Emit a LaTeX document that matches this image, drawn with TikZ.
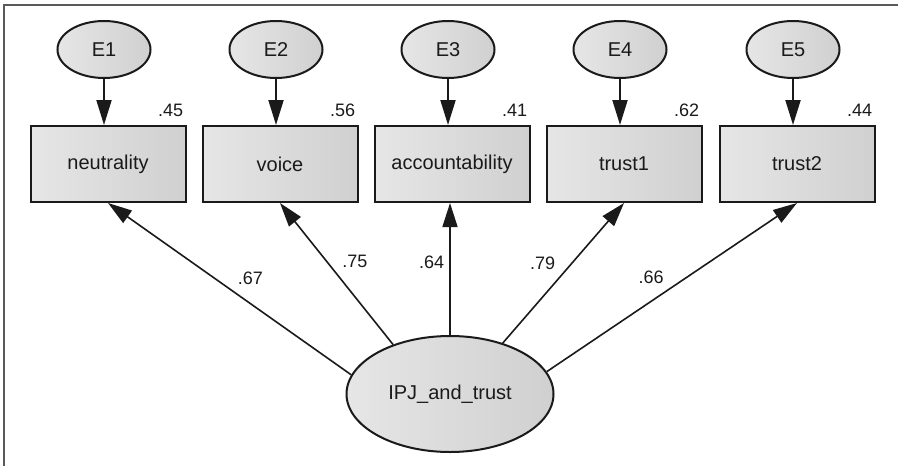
\documentclass[tikz,border=0pt]{standalone}
\usepackage{fontspec}
\setmainfont{Liberation Sans}
\usetikzlibrary{arrows.meta,positioning,shapes.geometric}
\definecolor{ink}{HTML}{1A1A1A}
\definecolor{framegray}{HTML}{5A5A5A}
\definecolor{shadelight}{HTML}{E6E6E6}
\definecolor{shadedark}{HTML}{D0D0D0}
\tikzset{
  itembox/.style={draw=ink,left color=shadelight,right color=shadedark,
                  line width=1pt,minimum width=77.5pt,minimum height=38pt,
                  inner sep=2pt,text=ink},
  errell/.style={ellipse,draw=ink,left color=shadelight,right color=shadedark,
                 line width=1pt,minimum width=46.5pt,minimum height=28.5pt,
                 inner sep=1pt,text=ink},
  latell/.style={ellipse,draw=ink,left color=shadelight,right color=shadedark,
                 line width=1pt,minimum width=103.5pt,minimum height=58pt,
                 inner sep=1pt,text=ink},
  errarr/.style={-{Triangle[length=12.5pt,width=7.5pt]},line width=1pt,
                 draw=ink},
  loadarr/.style={-{Triangle[length=12pt,width=7.5pt]},line width=0.8pt,
                  draw=ink},
  rsq/.style={font=\small,inner sep=0pt,text=ink},
  coef/.style={font=\small,inner sep=2.5pt,text=ink}
}

\begin{document}
\begin{tikzpicture}[x=0.5pt,y=-0.5pt]
    \path[use as bounding box] (0,0) rectangle (898,466);
    \draw[framegray,line width=0.75pt] (4,466) -- (4,5) -- (898,5);

    % observed indicators
    \node[itembox] (neutrality) at (108,164) {neutrality};
    \node[itembox] (voice) at (280,164) {voice};
    \node[itembox] (accountability) at (452,164) {accountability};
    \node[itembox] (trust1) at (624,164) {trust1};
    \node[itembox] (trust2) at (797,164) {trust2};

    % error terms
    \node[errell] (E1) at (104,49.5) {E1};
    \node[errell] (E2) at (276,49.5) {E2};
    \node[errell] (E3) at (448,49.5) {E3};
    \node[errell] (E4) at (620,49.5) {E4};
    \node[errell] (E5) at (793,49.5) {E5};

    \draw[errarr] (E1) -- (E1 |- neutrality.north);
    \draw[errarr] (E2) -- (E2 |- voice.north);
    \draw[errarr] (E3) -- (E3 |- accountability.north);
    \draw[errarr] (E4) -- (E4 |- trust1.north);
    \draw[errarr] (E5) -- (E5 |- trust2.north);

    % squared multiple correlations
    \node[rsq,above left=4pt and 1.5pt of neutrality.north east] (r1) {.45};
    \node[rsq,above left=4pt and 1.5pt of voice.north east] (r2) {.56};
    \node[rsq,above left=4pt and 1.5pt of accountability.north east] (r3) {.41};
    \node[rsq,above left=4pt and 1.5pt of trust1.north east] (r4) {.62};
    \node[rsq,above left=4pt and 1.5pt of trust2.north east] (r5) {.44};

    % latent factor and loadings
    \node[latell] (IPJ) at (450,394) {IPJ\_and\_trust};

    \draw[loadarr] (IPJ.169) -- node[coef,pos=0.49,anchor=south west] (l1) {.67}
      (neutrality.south);
    \draw[loadarr] (IPJ.139) -- node[coef,pos=0.5,anchor=south west] (l2) {.75}
      (voice.south);
    \draw[loadarr] (IPJ.north) -- node[coef,pos=0.55,anchor=east] (l3) {.64}
      (IPJ.north |- accountability.south);
    \draw[loadarr] (IPJ.44) -- node[coef,pos=0.48,anchor=south east] (l4) {.79}
      (trust1.south);
    \draw[loadarr] (IPJ.13) -- node[coef,pos=0.49,anchor=south east] (l5) {.66}
      (trust2.south);
\end{tikzpicture}
\end{document}
